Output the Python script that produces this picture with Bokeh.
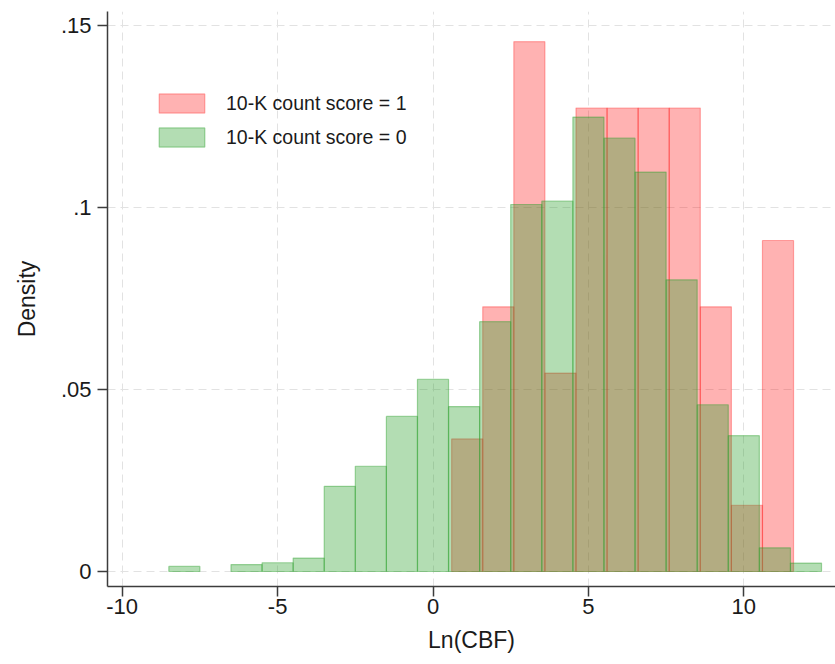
from bokeh.plotting import figure
from bokeh.models import Range1d, FixedTicker, Legend, LegendItem
from bokeh.embed import file_html
from bokeh.resources import INLINE

# ---- data (densities) ----
bin_width = 1.0

# 10-K count score = 1 (red) : bins start at 0.6
red_bin_start = [0.6, 1.6, 2.6, 3.6, 4.6, 5.6, 6.6, 7.6, 8.6, 9.6, 10.6]
red_density = [0.0364, 0.0727, 0.1455, 0.0545, 0.1273, 0.1273, 0.1273,
               0.1273, 0.0727, 0.0182, 0.0909]

# 10-K count score = 0 (green) : bins start at x.5
green_bin_start = [-8.5, -6.5, -5.5, -4.5, -3.5, -2.5, -1.5, -0.5, 0.5, 1.5,
                   2.5, 3.5, 4.5, 5.5, 6.5, 7.5, 8.5, 9.5, 10.5, 11.5]
green_density = [0.0014, 0.0019, 0.0024, 0.0037, 0.0234, 0.0289, 0.0426,
                 0.0528, 0.0453, 0.0686, 0.1008, 0.1017, 0.1248, 0.1190,
                 0.1097, 0.0801, 0.0458, 0.0373, 0.0065, 0.0023]

series_labels = ["10-K count score = 1", "10-K count score = 0"]
x_ticks = [-10, -5, 0, 5, 10]
x_tick_labels = ["-10", "-5", "0", "5", "10"]
y_ticks = [0, 0.05, 0.10, 0.15]
y_tick_labels = ["0", ".05", ".1", ".15"]
x_title = "Ln(CBF)"
y_title = "Density"

FONT = "Liberation Sans"
TXT = "#1a1a1a"
AX = "#3c3c3c"

p = figure(width=835, height=664, output_backend="svg", toolbar_location=None,
           x_range=Range1d(-10.473, 12.95), y_range=Range1d(-0.00412, 0.1538),
           min_border_left=107, min_border_right=0, min_border_top=11,
           min_border_bottom=78)
p.outline_line_color = None
p.background_fill_color = "white"
p.border_fill_color = "white"

red_left = [s for s in red_bin_start]
red_right = [s + bin_width for s in red_bin_start]
green_left = [s for s in green_bin_start]
green_right = [s + bin_width for s in green_bin_start]

r_red = p.quad(left=red_left, right=red_right, bottom=0, top=red_density,
               fill_color="#ff0000", fill_alpha=0.30,
               line_color="#ff0000", line_alpha=0.30, line_width=1.2)
r_green = p.quad(left=green_left, right=green_right, bottom=0, top=green_density,
                 fill_color="#2ca02c", fill_alpha=0.36,
                 line_color="#2ca02c", line_alpha=0.42, line_width=1.2)

# grids
for g in (p.xgrid, p.ygrid):
    g.grid_line_color = "#e2e2e2"
    g.grid_line_dash = "8 5"
    g.grid_line_width = 1
p.xaxis.ticker = FixedTicker(ticks=x_ticks)
p.yaxis.ticker = FixedTicker(ticks=y_ticks)
p.xgrid.ticker = FixedTicker(ticks=x_ticks)
p.ygrid.ticker = FixedTicker(ticks=y_ticks)
p.xaxis.major_label_overrides = {t: l for t, l in zip(x_ticks, x_tick_labels)}
p.yaxis.major_label_overrides = {t: l for t, l in zip(y_ticks, y_tick_labels)}

for ax in (p.xaxis, p.yaxis):
    ax.axis_line_color = AX
    ax.axis_line_width = 1.5
    ax.major_tick_line_color = AX
    ax.major_tick_line_width = 1.5
    ax.major_tick_out = 10
    ax.major_tick_in = 0
    ax.minor_tick_line_color = None
    ax.major_label_text_font = FONT
    ax.major_label_text_font_size = "22px"
    ax.major_label_text_color = TXT
    ax.axis_label_text_font = FONT
    ax.axis_label_text_font_size = "23px"
    ax.axis_label_text_font_style = "normal"
    ax.axis_label_text_color = TXT

p.xaxis.axis_label = x_title
p.yaxis.axis_label = y_title
p.xaxis.major_label_standoff = 2
p.xaxis.axis_label_standoff = 10
p.yaxis.major_label_standoff = 6
p.yaxis.axis_label_standoff = 18

legend = Legend(items=[LegendItem(label=series_labels[0], renderers=[r_red]),
                       LegendItem(label=series_labels[1], renderers=[r_green])],
                location=(46, 437), padding=0, margin=0,
                glyph_width=57, glyph_height=24, label_height=24,
                label_standoff=16, spacing=10,
                label_text_font=FONT, label_text_font_size="19.5px",
                label_text_color=TXT,
                border_line_alpha=0, background_fill_alpha=0)
p.add_layout(legend, "center")

open("out.html", "w").write(file_html(p, INLINE))
